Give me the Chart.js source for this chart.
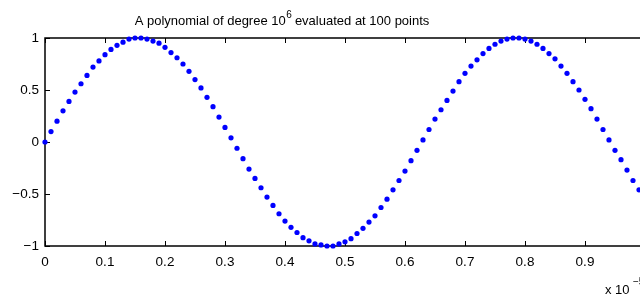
<!DOCTYPE html>
<html>
<head>
<meta charset="utf-8">
<script src="https://cdn.jsdelivr.net/npm/chart.js@4.4.1/dist/chart.umd.min.js"></script>
<style>
  html, body { margin: 0; padding: 0; background: #fff; overflow: hidden; }
  #wrap { position: absolute; left: 0; top: 0; width: 660px; height: 295px; }
</style>
</head>
<body>
<div id="wrap"><canvas id="polyChart"></canvas></div>
<script>
// sample points (x in units of 1e-5)
const xs = [0,0.01,0.02,0.03,0.04,0.05,0.06,0.07,0.08,0.09,
  0.1,0.11,0.12,0.13,0.14,0.15,0.16,0.17,0.18,0.19,
  0.2,0.21,0.22,0.23,0.24,0.25,0.26,0.27,0.28,0.29,
  0.3,0.31,0.32,0.33,0.34,0.35,0.36,0.37,0.38,0.39,
  0.4,0.41,0.42,0.43,0.44,0.45,0.46,0.47,0.48,0.49,
  0.5,0.51,0.52,0.53,0.54,0.55,0.56,0.57,0.58,0.59,
  0.6,0.61,0.62,0.63,0.64,0.65,0.66,0.67,0.68,0.69,
  0.7,0.71,0.72,0.73,0.74,0.75,0.76,0.77,0.78,0.79,
  0.8,0.81,0.82,0.83,0.84,0.85,0.86,0.87,0.88,0.89,
  0.9,0.91,0.92,0.93,0.94,0.95,0.96,0.97,0.98,0.99];
const ys = [0,0.10,0.20,0.30,0.39,0.48,0.56,0.64,0.72,0.78,
  0.84,0.89,0.93,0.96,0.99,1.00,1.00,0.99,0.97,0.95,
  0.91,0.86,0.81,0.75,0.68,0.60,0.52,0.43,0.34,0.24,
  0.14,0.04,-0.06,-0.16,-0.26,-0.35,-0.44,-0.53,-0.61,-0.69,
  -0.76,-0.82,-0.87,-0.92,-0.95,-0.98,-0.99,-1.00,-1.00,-0.98,
  -0.96,-0.93,-0.88,-0.83,-0.77,-0.71,-0.63,-0.55,-0.46,-0.37,
  -0.28,-0.18,-0.08,0.02,0.12,0.22,0.31,0.40,0.49,0.58,
  0.66,0.73,0.79,0.85,0.90,0.94,0.97,0.99,1.00,1.00,
  0.99,0.97,0.94,0.90,0.85,0.80,0.73,0.66,0.58,0.50,
  0.41,0.32,0.22,0.12,0.02,-0.08,-0.17,-0.27,-0.37,-0.46];
const xTicks = [0,0.1,0.2,0.3,0.4,0.5,0.6,0.7,0.8,0.9,1];
const yTicks = [-1,-0.5,0,0.5,1];

const FONT = '"Liberation Sans", Arial, Helvetica, sans-serif';
const pts = xs.map((x, i) => ({ x: x, y: ys[i] }));

// matlab-ish box with inward ticks, title and exponent label
const matlabAxes = {
  id: 'matlabAxes',
  beforeDatasetsDraw(chart) {
    const { ctx, chartArea: a, scales } = chart;
    ctx.save();
    ctx.strokeStyle = '#000';
    ctx.lineWidth = 1.5;
    ctx.strokeRect(a.left, a.top, a.right - a.left, a.bottom - a.top);
    ctx.lineWidth = 1;
    const tl = 5;
    ctx.beginPath();
    xTicks.forEach(v => {
      const px = Math.round(scales.x.getPixelForValue(v)) + 0.5;
      ctx.moveTo(px, a.bottom); ctx.lineTo(px, a.bottom - tl);
      ctx.moveTo(px, a.top); ctx.lineTo(px, a.top + tl);
    });
    yTicks.forEach(v => {
      const py = Math.round(scales.y.getPixelForValue(v)) + 0.5;
      ctx.moveTo(a.left, py); ctx.lineTo(a.left + tl, py);
      ctx.moveTo(a.right, py); ctx.lineTo(a.right - tl, py);
    });
    ctx.stroke();
    ctx.restore();
  },
  afterDraw(chart) {
    const { ctx } = chart;
    ctx.save();
    ctx.fillStyle = '#000';
    ctx.textBaseline = 'alphabetic';
    // title with superscript
    const p1 = 'A polynomial of degree 10', p2 = ' evaluated at 100 points';
    ctx.font = '10px ' + FONT;
    const wSup = ctx.measureText('6').width;
    ctx.font = '13px ' + FONT;
    const w1 = ctx.measureText(p1).width, w2 = ctx.measureText(p2).width;
    let x0 = 282 - (w1 + wSup + w2) / 2;
    ctx.textAlign = 'left';
    ctx.fillText(p1, x0, 25);
    ctx.font = '10px ' + FONT;
    ctx.fillText('6', x0 + w1 + 0.5, 18);
    ctx.font = '13px ' + FONT;
    ctx.fillText(p2, x0 + w1 + wSup, 25);
    // exponent label
    ctx.font = '13px ' + FONT;
    ctx.fillText('x 10', 605, 294);
    ctx.font = '10px ' + FONT;
    ctx.fillText('\u22125', 633, 285);
    ctx.restore();
  }
};

new Chart(document.getElementById('polyChart'), {
  type: 'scatter',
  data: {
    datasets: [{
      data: pts,
      backgroundColor: '#0000ff',
      borderWidth: 0,
      pointRadius: 2.6,
      pointHoverRadius: 2.6,
      clip: false
    }]
  },
  options: {
    responsive: true, maintainAspectRatio: false, animation: false,
    layout: { padding: { top: 38, right: 15, left: 0, bottom: 0 } },
    plugins: { legend: { display: false }, tooltip: { enabled: false } },
    scales: {
      x: {
        type: 'linear', min: 0, max: 1,
        afterBuildTicks: s => { s.ticks = xTicks.map(v => ({ value: v })); },
        afterFit: s => { s.height = 49; },
        grid: { display: false, drawTicks: false },
        border: { display: false },
        ticks: {
          color: '#000', padding: 8, maxRotation: 0, autoSkip: false,
          font: { family: FONT, size: 13.5 },
          callback: v => v === 0 ? '0' : (v === 1 ? '1' : v.toFixed(1))
        }
      },
      y: {
        min: -1, max: 1,
        afterBuildTicks: s => { s.ticks = yTicks.map(v => ({ value: v })); },
        afterFit: s => { s.width = 45; },
        grid: { display: false, drawTicks: false },
        border: { display: false },
        ticks: {
          color: '#000', padding: 6,
          font: { family: FONT, size: 13.5 },
          callback: v => v < 0 ? '\u2212' + Math.abs(v) : String(v)
        }
      }
    }
  },
  plugins: [matlabAxes]
});
</script>
</body>
</html>
